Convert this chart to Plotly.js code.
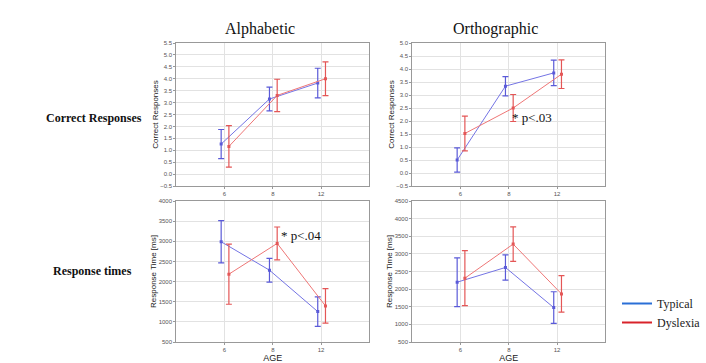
<!DOCTYPE html>
<html><head><meta charset="utf-8">
<script src="https://cdn.plot.ly/plotly-3.0.1.min.js"></script>
<style>html,body{margin:0;padding:0;background:#fff}#c{width:706px;height:363px}</style>
</head><body><div id="c"></div>
<script>
const ages = ['6','8','12'];
const agePos = [0, 1, 2];
// Alphabetic – correct responses
const alphaCorrTyp = [1.26, 3.15, 3.82];
const alphaCorrTypErr = [0.61, 0.50, 0.62];
const alphaCorrDys = [1.16, 3.30, 4.00];
const alphaCorrDysErr = [0.87, 0.68, 0.71];
// Orthographic – correct responses
const orthoCorrTyp = [0.50, 3.34, 3.85];
const orthoCorrTypErr = [0.47, 0.37, 0.49];
const orthoCorrDys = [1.52, 2.50, 3.80];
const orthoCorrDysErr = [0.67, 0.52, 0.55];
// Alphabetic – response times (ms)
const alphaRtTyp = [2988, 2283, 1255];
const alphaRtTypErr = [523, 295, 365];
const alphaRtDys = [2184, 2947, 1396];
const alphaRtDysErr = [747, 407, 427];
// Orthographic – response times (ms)
const orthoRtTyp = [2197, 2614, 1476];
const orthoRtTypErr = [692, 356, 450];
const orthoRtDys = [2310, 3277, 1865];
const orthoRtDysErr = [780, 488, 517];
const groups = ['Typical', 'Dyslexia'];

const blue = '#7474e4', red = '#ee7676';
const blueBar = '#5a5ad8', redBar = '#e45656';
const offT = -0.07, offD = 0.09;

function tr(xa, ya, y, e, typ) {
  return {
    type: 'scatter', mode: 'lines+markers', xaxis: xa, yaxis: ya,
    x: agePos.map(p => p + (typ ? offT : offD)), y: y,
    line: {color: typ ? blue : red, width: 1},
    marker: {symbol: 'square', size: 3, color: typ ? blueBar : redBar},
    error_y: {type: 'data', array: e, visible: true, color: typ ? blueBar : redBar, thickness: 1.2, width: 3},
    showlegend: false, hoverinfo: 'skip'
  };
}
const data = [
  tr('x', 'y', alphaCorrTyp, alphaCorrTypErr, true),
  tr('x', 'y', alphaCorrDys, alphaCorrDysErr, false),
  tr('x2', 'y2', orthoCorrTyp, orthoCorrTypErr, true),
  tr('x2', 'y2', orthoCorrDys, orthoCorrDysErr, false),
  tr('x3', 'y3', alphaRtTyp, alphaRtTypErr, true),
  tr('x3', 'y3', alphaRtDys, alphaRtDysErr, false),
  tr('x4', 'y4', orthoRtTyp, orthoRtTypErr, true),
  tr('x4', 'y4', orthoRtDys, orthoRtDysErr, false),
  {type:'scatter', mode:'lines', x:[null], y:[null], name: groups[0], line:{color:'#2a6fd6', width:2}, xaxis:'x', yaxis:'y'},
  {type:'scatter', mode:'lines', x:[null], y:[null], name: groups[1], line:{color:'#d8232a', width:2}, xaxis:'x', yaxis:'y'}
];

const W = 706, H = 363;
const xd1 = [177/W, 371/W], xd2 = [414/W, 608/W];
const ydTop = [1-186/H, 1-43/H], ydBot = [1-342/H, 1-201/H];
const tickF = {family:'Arial', size:6, color:'#555'};
const titleF = {family:'Arial', size:8, color:'#222'};
function xax(dom, anchor, showTitle) {
  const o = {domain: dom, anchor: anchor, range: [-1, 3], tickvals: agePos, ticktext: ages,
    showgrid: true, gridcolor: '#e2e2e2', gridwidth: 1, zeroline: false,
    showline: true, linecolor: '#999', linewidth: 1, mirror: true,
    ticks: 'outside', ticklen: 2, tickcolor: '#999', tickfont: tickF};
  if (showTitle) o.title = {text: 'AGE', font: {family:'Arial', size:9, color:'#222'}, standoff: 2};
  return o;
}
function yax(dom, anchor, range, dtick, fmt, title) {
  return {domain: dom, anchor: anchor, range: range, dtick: dtick, tick0: 0, tickformat: fmt,
    showgrid: true, gridcolor: '#e2e2e2', gridwidth: 1, zeroline: false,
    showline: true, linecolor: '#999', linewidth: 1, mirror: true,
    ticks: 'outside', ticklen: 2, tickcolor: '#999', tickfont: tickF,
    title: {text: title, font: titleF, standoff: 0}};
}
const serif = 'Liberation Serif, Times New Roman, serif';
function ann(text, x, y, size) {
  return {text: text, x: x/W, y: 1-y/H, xref:'paper', yref:'paper', xanchor:'center', yanchor:'middle',
    showarrow:false, font:{family:serif, size:size, color:'#111'}};
}
const layout = {
  width: W, height: H, margin: {l:0, r:0, t:0, b:0},
  paper_bgcolor: '#fff', plot_bgcolor: '#fff',
  xaxis: xax(xd1, 'y', false), yaxis: yax(ydTop, 'x', [-0.5, 5.5], 0.5, '.1f', 'Correct Responses'),
  xaxis2: xax(xd2, 'y2', false), yaxis2: yax(ydTop, 'x2', [-0.5, 5.0], 0.5, '.1f', 'Correct Responses'),
  xaxis3: xax(xd1, 'y3', true), yaxis3: yax(ydBot, 'x3', [500, 4000], 500, 'd', 'Response Time [ms]'),
  xaxis4: xax(xd2, 'y4', true), yaxis4: yax(ydBot, 'x4', [500, 4500], 500, 'd', 'Response Time [ms]'),
  showlegend: true,
  legend: {x: 620/W, y: 1-289/H, xanchor: 'left', yanchor: 'top', bgcolor: 'rgba(0,0,0,0)',
    font: {family: serif, size: 12, color: '#222'}, tracegroupgap: 0, itemwidth: 30},
  annotations: [
    ann('Alphabetic', 261, 29, 16),
    ann('Orthographic', 498, 29, 16),
    ann('<b>Correct Responses</b>', 94, 118, 12),
    ann('<b>Response times</b>', 93, 271, 12),
    ann('* p<.03', 534, 118, 13),
    ann('* p<.04', 302, 235, 13)
  ]
};
Plotly.newPlot('c', data, layout, {displayModeBar: false, staticPlot: true});
</script></body></html>
